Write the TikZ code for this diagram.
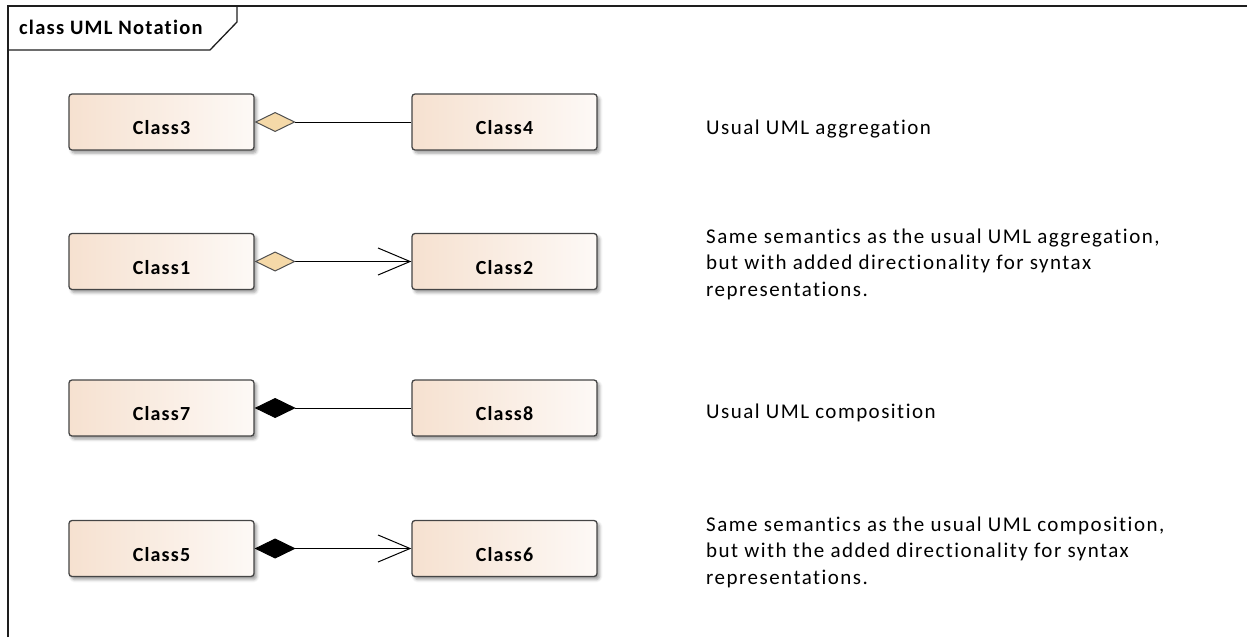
\documentclass[tikz,border=0pt]{standalone}
\usepackage{fontspec}
\setmainfont{Carlito}[LetterSpace=6, Ligatures=NoCommon]
\newfontfamily\notefont{Carlito}[LetterSpace=7, Ligatures=NoCommon]
\usetikzlibrary{arrows.meta,shadows.blur}

\definecolor{framegray}{HTML}{1E1E1E}
\definecolor{boxedge}{HTML}{454545}
\definecolor{peachL}{HTML}{F6E1D0}
\definecolor{peachR}{HTML}{FDF9F6}
\definecolor{aggfill}{HTML}{F5D9A8}
\definecolor{diamondedge}{HTML}{505050}

\tikzset{
  classbox/.style={draw=boxedge, line width=1.3pt, rounded corners=3pt,
    minimum width=185pt, minimum height=56pt, inner sep=0pt,
    left color=peachL, right color=peachR,
    font=\bfseries\fontsize{20pt}{24pt}\selectfont,
    text height=25pt, text depth=0pt,
    blur shadow={shadow xshift=2.5pt, shadow yshift=-3pt,
      shadow blur radius=3pt, shadow opacity=40}},
  note/.style={anchor=base west, align=left, inner sep=0pt,
    font=\notefont\fontsize{21pt}{26.5pt}\selectfont},
  link/.style={draw=black, line width=1pt},
  aggregation/.style={link,
    {Diamond[length=41pt,width=20pt,fill=aggfill,color=diamondedge]}-},
  diraggregation/.style={link,
    {Diamond[length=41pt,width=20pt,fill=aggfill,color=diamondedge]}-{Straight Barb[length=32pt,width=27pt]}},
  composition/.style={link,
    {Diamond[length=41pt,width=20pt,fill=black]}-},
  dircomposition/.style={link,
    {Diamond[length=41pt,width=20pt,fill=black]}-{Straight Barb[length=32pt,width=27pt]}},
}

\begin{document}
\begin{tikzpicture}[x=1pt,y=-1pt]
  \useasboundingbox (0,0) rectangle (1247,637);

  % diagram frame with its name tab
  \draw[framegray, line width=1.5pt] (8,637) -- (8,6) -- (1247,6);
  \draw[framegray, line width=1.3pt] (8,50) -- (210,50) -- (237,22) -- (237,6);
  \node[anchor=base west, inner sep=0pt, font=\bfseries\fontsize{20.5pt}{24pt}\selectfont]
    (title) at (19,34) {class UML Notation};

  % classes
  \node[classbox] (c3) at (161.5,122) {Class3};
  \node[classbox] (c4) at (504.5,122) {Class4};
  \node[classbox] (c1) at (161.5,261.5) {Class1};
  \node[classbox] (c2) at (504.5,261.5) {Class2};
  \node[classbox] (c7) at (161.5,408) {Class7};
  \node[classbox] (c8) at (504.5,408) {Class8};
  \node[classbox] (c5) at (161.5,548.5) {Class5};
  \node[classbox] (c6) at (504.5,548.5) {Class6};

  % associations
  \draw[aggregation] (c3) -- (c4);
  \draw[diraggregation] (c1) -- (c2);
  \draw[composition] (c7) -- (c8);
  \draw[dircomposition] (c5) -- (c6);

  % explanations (anchored on the baseline of their last line)
  \node[note] (n1) at (706,134) {Usual UML aggregation};
  \node[note] (n2) at (706,296) {Same semantics as the usual UML aggregation,\\but with added directionality for syntax\\representations.};
  \node[note] (n3) at (706,418) {Usual UML composition};
  \node[note] (n4) at (706,584) {Same semantics as the usual UML composition,\\but with the added directionality for syntax\\representations.};
\end{tikzpicture}
\end{document}
